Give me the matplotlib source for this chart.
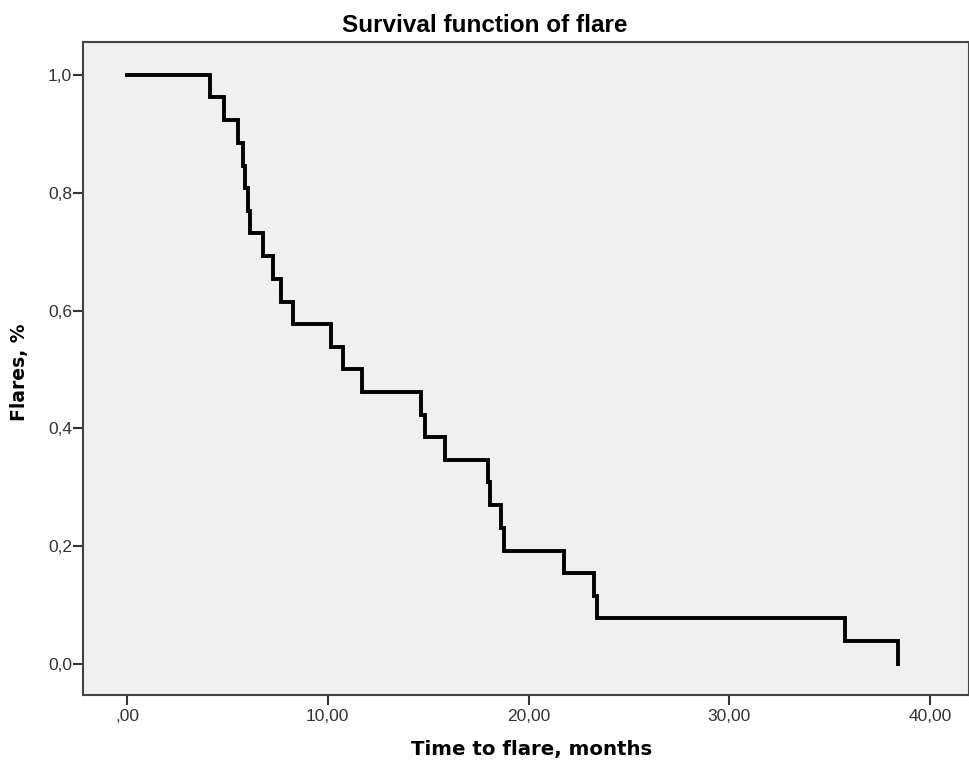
import numpy as np
import matplotlib.pyplot as plt

# Kaplan-Meier steps (time, survival after the event)
times = [0.0, 4.13, 4.83, 5.54, 5.79, 5.87, 6.04, 6.12, 6.78, 7.28, 7.69, 8.27,
         10.18, 10.78, 11.72, 14.66, 14.83, 15.82, 17.98, 18.09, 18.61, 18.77,
         21.77, 23.26, 23.40, 35.76, 38.41]
surv = [1.0, 0.962, 0.923, 0.885, 0.846, 0.808, 0.769, 0.731, 0.692, 0.654, 0.615,
        0.577, 0.538, 0.500, 0.462, 0.423, 0.385, 0.346, 0.308, 0.269, 0.231,
        0.192, 0.154, 0.115, 0.077, 0.038, 0.0]

x_ticks = [0, 10, 20, 30, 40]
x_labels = [",00", "10,00", "20,00", "30,00", "40,00"]
y_ticks = [0.0, 0.2, 0.4, 0.6, 0.8, 1.0]
y_labels = ["0,0", "0,2", "0,4", "0,6", "0,8", "1,0"]

plt.rcParams["font.family"] = ["Liberation Sans", "DejaVu Sans"]

fig = plt.figure(figsize=(9.69, 7.71), dpi=100)
ax = fig.add_axes([83 / 969, 1 - 695 / 771, (969 - 83) / 969, (695 - 42) / 771])
ax.set_facecolor("#f0f0f0")

ax.step(times, surv, where="post", color="black", linewidth=2.8, solid_joinstyle="miter")

ax.set_xlim(-2.19, 41.93)
ax.set_ylim(-0.053, 1.056)
ax.set_xticks(x_ticks)
ax.set_xticklabels(x_labels)
ax.set_yticks(y_ticks)
ax.set_yticklabels(y_labels)
ax.tick_params(direction="out", length=7, width=1.5, color="#333333",
               labelsize=12.5, labelcolor="#333333")
ax.tick_params(axis="y", pad=1)
ax.tick_params(axis="x", pad=3)

for side in ["left", "bottom", "top", "right"]:
    ax.spines[side].set_color("#444444")
    ax.spines[side].set_linewidth(1.5)

# Titel und Achsentitel
fig.text(485 / 969, 1 - 25 / 771, "Survival function of flare",
         ha="center", va="center", fontsize=17.5, fontweight="bold")
fig.text(532 / 969, 1 - 750 / 771, "Time to flare, months",
         ha="center", va="center", fontsize=14.2, fontweight="bold",
         family="DejaVu Sans")
fig.text(20 / 969, 1 - 372 / 771, "Flares, %", rotation=90,
         ha="center", va="center", fontsize=13.5, fontweight="bold",
         family="DejaVu Sans")

fig.savefig("out.png", dpi=100)
